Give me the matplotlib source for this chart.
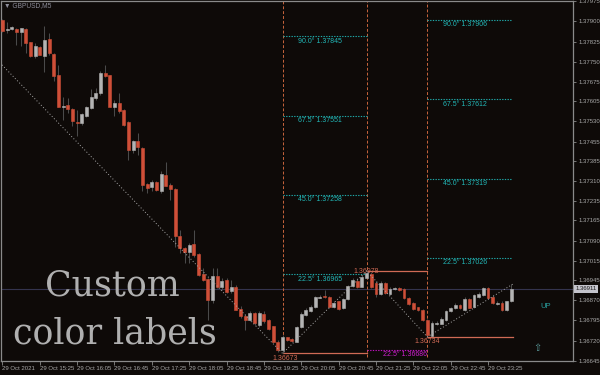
import matplotlib
matplotlib.use('Agg')
import matplotlib.pyplot as plt
import numpy as np

#narrow-ish font like the terminal, fallback for arrows
plt.rcParams['font.family']=['Liberation Sans','DejaVu Sans']

#gbpusd m5 candles, 29 oct 2021 14:45 -> 23:50
opens=[1.37903,1.37869,1.37872,1.37871,1.37862,1.37873,1.37822,1.37770,1.37806,1.37773,
1.37835,1.37780,1.37702,1.37582,1.37590,1.37577,1.37529,1.37526,1.37551,1.37579,
1.37615,1.37635,1.37708,1.37700,1.37585,1.37598,1.37573,1.37527,1.37425,1.37457,
1.37432,1.37300,1.37288,1.37305,1.37272,1.37333,1.37295,1.37280,1.37105,1.37062,
1.37046,1.37078,1.37041,1.36967,1.36948,1.36870,1.36958,1.36919,1.36946,1.36902,
1.36919,1.36838,1.36813,1.36796,1.36821,1.36779,1.36818,1.36796,1.36773,1.36717,
1.36686,1.36732,1.36727,1.36717,1.36769,1.36816,1.36828,1.36844,1.36879,1.36886,
1.36882,1.36844,1.36865,1.36840,1.36873,1.36923,1.36942,1.36920,1.36953,1.36966,
1.36932,1.36892,1.36932,1.36892,1.36911,1.36914,1.36911,1.36879,1.36858,1.36843,
1.36834,1.36797,1.36738,1.36783,1.36783,1.36797,1.36828,1.36840,1.36852,1.36834,
1.36873,1.36844,1.36883,1.36889,1.36914,1.36883,1.36857,1.36861,1.36834,1.36865]

closes=[1.37866,1.37872,1.37878,1.37860,1.37874,1.37819,1.37770,1.37809,1.37776,1.37831,
1.37782,1.37699,1.37585,1.37588,1.37575,1.37533,1.37526,1.37556,1.37583,1.37620,
1.37635,1.37708,1.37699,1.37585,1.37598,1.37569,1.37518,1.37425,1.37457,1.37434,
1.37296,1.37284,1.37305,1.37275,1.37336,1.37293,1.37281,1.37105,1.37062,1.37047,
1.37074,1.37035,1.36964,1.36946,1.36870,1.36958,1.36919,1.36942,1.36899,1.36919,
1.36835,1.36810,1.36796,1.36821,1.36785,1.36821,1.36791,1.36764,1.36717,1.36686,
1.36732,1.36723,1.36719,1.36770,1.36818,1.36833,1.36846,1.36881,1.36882,1.36882,
1.36843,1.36861,1.36836,1.36873,1.36921,1.36945,1.36919,1.36955,1.36969,1.36920,
1.36892,1.36932,1.36895,1.36911,1.36916,1.36909,1.36877,1.36856,1.36838,1.36833,
1.36797,1.36742,1.36785,1.36787,1.36801,1.36830,1.36840,1.36852,1.36840,1.36873,
1.36842,1.36887,1.36893,1.36914,1.36879,1.36858,1.36861,1.36834,1.36865,1.36911]

highs=[1.37908,1.37899,1.37881,1.37874,1.37877,1.37876,1.37825,1.37819,1.37807,1.37881,
1.37856,1.37782,1.37739,1.37622,1.37616,1.37579,1.37573,1.37561,1.37588,1.37649,
1.37653,1.37715,1.37739,1.37702,1.37610,1.37635,1.37575,1.37530,1.37462,1.37487,
1.37434,1.37302,1.37315,1.37309,1.37346,1.37382,1.37302,1.37284,1.37129,1.37068,
1.37080,1.37129,1.37043,1.36989,1.36952,1.36989,1.36989,1.36952,1.36952,1.36946,
1.36924,1.36847,1.36817,1.36829,1.36826,1.36829,1.36828,1.36800,1.36776,1.36723,
1.36742,1.36735,1.36729,1.36775,1.36825,1.36840,1.36852,1.36884,1.36889,1.36908,
1.36884,1.36867,1.36867,1.36877,1.36926,1.36951,1.36951,1.36961,1.36978,1.36973,
1.36939,1.36939,1.36936,1.36920,1.36920,1.36918,1.36914,1.36883,1.36862,1.36846,
1.36838,1.36800,1.36791,1.36793,1.36806,1.36834,1.36846,1.36859,1.36856,1.36883,
1.36877,1.36892,1.36899,1.36919,1.36919,1.36887,1.36865,1.36865,1.36868,1.36929]

lows=[1.37862,1.37856,1.37868,1.37813,1.37807,1.37782,1.37767,1.37764,1.37774,1.37714,
1.37776,1.37678,1.37583,1.37536,1.37561,1.37512,1.37475,1.37518,1.37546,1.37575,
1.37610,1.37628,1.37696,1.37583,1.37549,1.37561,1.37514,1.37388,1.37413,1.37407,
1.37272,1.37266,1.37272,1.37272,1.37266,1.37290,1.37241,1.37068,1.37043,1.37006,
1.37006,1.37031,1.36960,1.36940,1.36798,1.36860,1.36915,1.36909,1.36897,1.36897,
1.36833,1.36804,1.36761,1.36792,1.36779,1.36772,1.36787,1.36760,1.36714,1.36680,
1.36673,1.36719,1.36714,1.36714,1.36766,1.36812,1.36825,1.36840,1.36877,1.36877,
1.36840,1.36840,1.36833,1.36836,1.36871,1.36920,1.36916,1.36918,1.36951,1.36916,
1.36883,1.36887,1.36892,1.36887,1.36909,1.36905,1.36873,1.36852,1.36834,1.36828,
1.36793,1.36734,1.36736,1.36778,1.36781,1.36793,1.36825,1.36838,1.36836,1.36830,
1.36840,1.36840,1.36879,1.36886,1.36874,1.36855,1.36852,1.36830,1.36830,1.36862]

#x axis labels every 8 bars
time_ticks=[0,8,16,24,32,40,48,56,64,72,80,88,96,104]
time_labels=['29 Oct 2021','29 Oct 15:25','29 Oct 16:05','29 Oct 16:45','29 Oct 17:25',
'29 Oct 18:05','29 Oct 18:45','29 Oct 19:25','29 Oct 20:05','29 Oct 20:45',
'29 Oct 21:25','29 Oct 22:05','29 Oct 22:45','29 Oct 23:25']

#price scale labels
price_ticks=[1.37975,1.37900,1.37825,1.37750,1.37675,1.37605,1.37530,1.37455,1.37385,
1.37310,1.37235,1.37165,1.37090,1.37015,1.36945,1.36870,1.36795,1.36720,1.36645]

#swing points (bar, price)
swing_bars=[60,78,91]
swing_prices=[1.36673,1.36978,1.36734]

#zigzag dotted lines
zig_x=[-0.1,60,78,91,109.4]
zig_y=[1.37739,1.36673,1.36978,1.36734,1.36930]

#angle levels
angles=['22.5°','45.0°','67.5°','90.0°']
levels_a=[1.36965,1.37258,1.37551,1.37845]
levels_b=[1.37026,1.37319,1.37612,1.37906]
level_c=1.36686

last_price=1.36911

bg='#0e0a08'
bear='#cf4f38'
bull='#b4b4b4'
wick='#4a4a4a'
axcol='#8a8a8a'
txtcol='#a8a8a8'
cyan='#1fa8a8'
salmon='#d06a55'

fig=plt.figure(figsize=(6,3.75),dpi=100,facecolor=bg)
ax=fig.add_axes([1/600,1-361/375,572/600,360/375])
ax.set_facecolor(bg)

n=len(opens)
x=np.arange(n)
o=np.array(opens); c=np.array(closes); h=np.array(highs); l=np.array(lows)

#candles
ax.vlines(x,l,h,color=wick,lw=0.75,zorder=3)
cols=np.where(c>=o,bull,bear)
ax.bar(x,np.abs(c-o),bottom=np.minimum(o,c),width=0.62,color=cols,
       edgecolor=cols,lw=0.4,zorder=4)

#current price line
ax.axhline(last_price,color='#34344e',lw=0.8,zorder=1)

#vertical dashed lines at the swings
for b in swing_bars:
    ax.plot([b,b],[1.36690 if b==60 else 1.36660,1.38],color='#c8643c',lw=0.7,
            ls=(0,(3,2)),zorder=2)

#horizontal swing lines
ax.plot([60,78],[swing_prices[0]]*2,color=salmon,lw=0.9,zorder=2)
ax.plot([78,91],[swing_prices[1]]*2,color=salmon,lw=0.9,zorder=2)
ax.plot([91,109.4],[swing_prices[2]]*2,color=salmon,lw=0.9,zorder=2)

ax.text(60.5,swing_prices[0]-0.00004,'%.5f'%swing_prices[0],color=salmon,fontsize=5,ha='center',va='top',zorder=2)
ax.text(78,swing_prices[1]-0.00002,'%.5f'%swing_prices[1],color=salmon,fontsize=5,ha='center',va='center',zorder=2)
ax.text(91,swing_prices[2]-0.00004,'%.5f'%swing_prices[2],color=salmon,fontsize=5,ha='center',va='top',zorder=2)

#angle levels
for a,v in zip(angles,levels_a):
    ax.plot([60,78],[v,v],color=cyan,lw=0.8,ls=(0,(1.2,1.2)),zorder=2)
    ax.text(68,v-0.00005,a+' '+'%.5f'%v,color='#22b8b8',fontsize=5,ha='center',va='top',zorder=2)
for a,v in zip(angles,levels_b):
    ax.plot([91,109],[v,v],color=cyan,lw=0.8,ls=(0,(1.2,1.2)),zorder=2)
    ax.text(99,v-0.00005,a+' '+'%.5f'%v,color='#22b8b8',fontsize=5,ha='center',va='top',zorder=2)
ax.plot([78,91],[level_c,level_c],color='#c010c0',lw=0.8,ls=(0,(1.2,1.2)),zorder=2)
ax.text(86.3,level_c-0.00005,angles[0]+' '+'%.5f'%level_c,color='#d020d0',fontsize=5,
        ha='center',va='top',zorder=2)

#zigzag
ax.plot(zig_x,zig_y,color='#a8a8a8',lw=0.7,ls=(0,(1,2.2)),zorder=5)

ax.set_xlim(-0.3,122.2)
ax.set_ylim(1.36645,1.37975)

#axes look
for s in ax.spines.values():
    s.set_color(axcol)
    s.set_linewidth(0.9)
ax.yaxis.tick_right()
ax.set_yticks(price_ticks)
ax.set_yticklabels(['%.5f'%p for p in price_ticks])
ax.tick_params(axis='y',colors=axcol,length=2.5,width=0.6,labelsize=4.3,pad=1.2,labelcolor=txtcol)
ax.set_xticks(time_ticks)
ax.set_xticklabels(time_labels,ha='left')
ax.tick_params(axis='x',colors=axcol,length=3,width=0.6,labelsize=4.3,pad=0.8,labelcolor=txtcol)

#current price box on the scale
ax.annotate('%.5f'%last_price,xy=(1.004,last_price),xycoords=('axes fraction','data'),
            ha='left',va='center',fontsize=4.3,color='#1a1a1a',
            bbox=dict(boxstyle='square,pad=0.25',fc='#c4c4cc',ec='none'))

#texts on the chart
fig.text(4/600,1-6/375,'▼ GBPUSD,M5',color='#8c8c98',fontsize=4.8,va='center',ha='left')
fig.text(45/600,1-295/375,'Custom',family='DejaVu Serif',fontsize=25,color='#b0b0b0',
         va='baseline',ha='left',zorder=10)
fig.text(13/600,1-343/375,'color labels',family='DejaVu Serif',fontsize=25,color='#b0b0b0',
         va='baseline',ha='left',zorder=10)
fig.text(540/600,1-307/375,'UP',color='#2aa0a0',fontsize=5.5,va='center',ha='left')
fig.text(537/600,1-348/375,'⇧',color='#5a9a9a',fontsize=7,va='center',ha='center',
         family='DejaVu Sans')

fig.savefig('out.png',dpi=100,facecolor=bg)
